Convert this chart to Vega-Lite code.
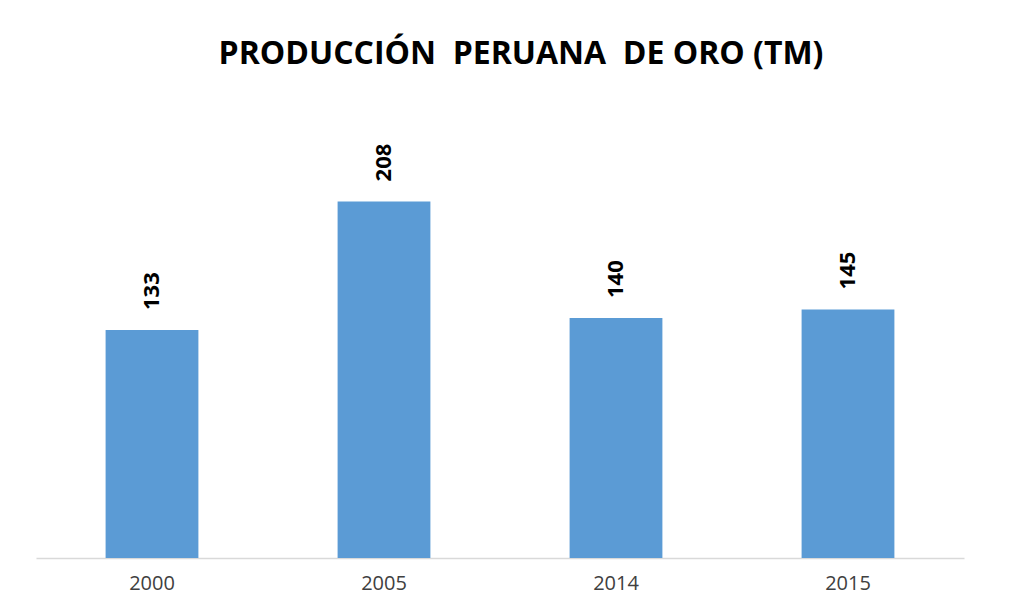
{
  "$schema": "https://vega.github.io/schema/vega-lite/v6.json",
  "autosize": "none",
  "width": 928,
  "height": 428.6,
  "padding": {"left": 36, "top": 129.4, "right": 58, "bottom": 50},
  "background": "white",
  "title": {
    "text": "PRODUCCIÓN\u00a0 PERUANA\u00a0 DE ORO (TM)",
    "font": "Open Sans",
    "fontSize": 32,
    "fontWeight": "bold",
    "color": "#000000",
    "anchor": "middle",
    "dx": 21,
    "offset": 58
  },
  "data": {
    "values": [
      {"year": "2000", "value": 133},
      {"year": "2005", "value": 208},
      {"year": "2014", "value": 140},
      {"year": "2015", "value": 145}
    ]
  },
  "encoding": {
    "x": {
      "field": "year",
      "type": "ordinal",
      "sort": null,
      "scale": {"paddingInner": 0.6, "paddingOuter": 0.3},
      "axis": {
        "title": null,
        "labelAngle": 0,
        "labelFont": "Open Sans",
        "labelFontSize": 20,
        "labelColor": "#404040",
        "labelPadding": 15,
        "ticks": false,
        "domainColor": "#D9D9D9",
        "domainWidth": 1.5
      }
    },
    "y": {
      "field": "value",
      "type": "quantitative",
      "scale": {"domain": [0, 250], "nice": false},
      "axis": null
    }
  },
  "layer": [
    {"mark": {"type": "bar", "color": "#5B9BD5"}},
    {
      "mark": {
        "type": "text",
        "angle": -90,
        "align": "left",
        "baseline": "middle",
        "dx": 20,
        "font": "Open Sans",
        "fontSize": 22,
        "fontWeight": "bold",
        "color": "#000000"
      },
      "encoding": {"text": {"field": "value", "type": "quantitative"}}
    }
  ],
  "config": {"view": {"stroke": null}}
}
